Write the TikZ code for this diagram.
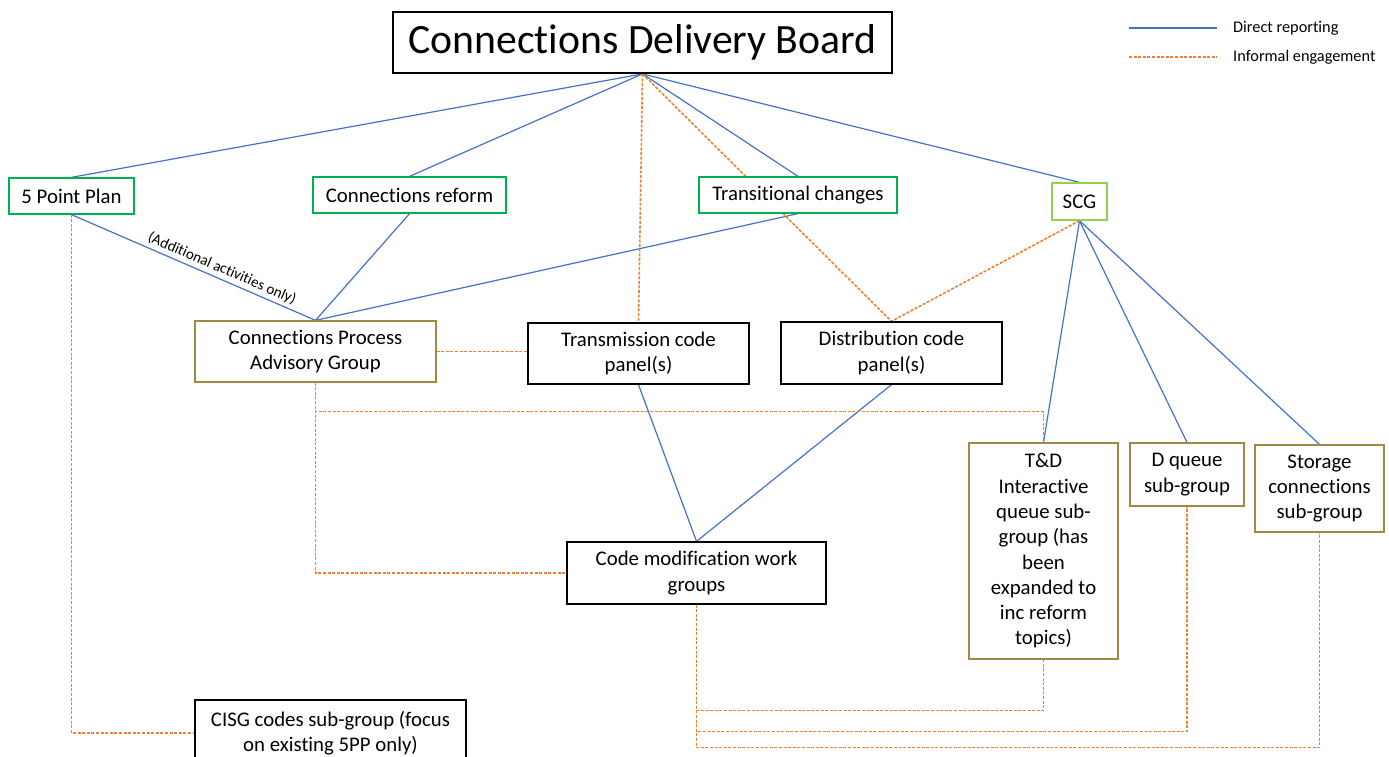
\documentclass[tikz,border=0pt]{standalone}
\usepackage{fontspec}
\setmainfont{Carlito}[Ligatures={NoCommon,NoContextual,NoRare}]
\usetikzlibrary{backgrounds}
\definecolor{reportblue}{HTML}{4472C4}
\definecolor{informalorange}{HTML}{F07F30}
\definecolor{streamgreen}{HTML}{00B050}
\definecolor{scggreen}{HTML}{92D050}
\definecolor{groupgold}{HTML}{9E8A44}

\begin{document}
\begin{tikzpicture}[x=1pt,y=-1pt,
  box/.style={rectangle,fill=white,inner sep=0pt,align=center,line width=1.3pt,
    font=\fontsize{20.8}{25.3}\selectfont},
  boardbox/.style={box,draw=black,line width=1.8pt,font=\fontsize{41.7}{50}\selectfont},
  streambox/.style={box,draw=streamgreen},
  scgbox/.style={box,draw=scggreen},
  groupbox/.style={box,draw=groupgold},
  panelbox/.style={box,draw=black},
  report/.style={draw=reportblue,line width=1.2pt},
  informal/.style={draw=informalorange,line width=1.6pt,dash pattern=on 3pt off 1.6pt},
  legendtext/.style={anchor=west,inner sep=0pt,font=\fontsize{16.3}{19.6}\selectfont},
  notetext/.style={inner sep=3pt,font=\fontsize{15.1}{18}\selectfont}]
\useasboundingbox (0,0) rectangle (1389,756);
\clip (0,0) rectangle (1389,756);
% board and workstreams
\node[boardbox,minimum width=499,minimum height=61] (cdb) at (642.5,42.5) {Connections Delivery Board};
\node[streambox,minimum width=125,minimum height=36] (fpp) at (71.5,196) {5 Point Plan};
\node[streambox,minimum width=193,minimum height=36] (reform) at (409.5,195) {Connections reform};
\node[streambox,minimum width=198,minimum height=36] (trans) at (798,195) {Transitional changes};
\node[scgbox,minimum width=55,minimum height=37] (scg) at (1079.5,201.5) {SCG};
% groups and panels
\node[groupbox,minimum width=241,minimum height=61] (cpag) at (315.5,351.5) {Connections Process\\Advisory Group};
\node[panelbox,minimum width=221,minimum height=61] (tcp) at (638.5,353.5) {Transmission code\\panel(s)};
\node[panelbox,minimum width=221,minimum height=62] (dcp) at (891.5,353) {Distribution code\\panel(s)};
\node[groupbox,minimum width=149,minimum height=216] (td) at (1043.5,551) {T\&D\\Interactive\\queue sub-\\group (has\\been\\expanded to\\inc reform\\topics)};
\node[groupbox,minimum width=114,minimum height=63] (dq) at (1187,474.5) {D queue\\sub-group};
\node[groupbox,minimum width=129,minimum height=87] (stor) at (1319.5,488.5) {Storage\\connections\\sub-group};
\node[panelbox,minimum width=259,minimum height=62] (cmwg) at (696.5,573) {Code modification work\\groups};
\node[panelbox,minimum width=271,minimum height=66] (cisg) at (330.5,733) {CISG codes sub-group (focus\\on existing 5PP only)};
% legend
\coordinate (repA) at (1129,28);
\coordinate (repB) at (1217,28);
\coordinate (infA) at (1129,57);
\coordinate (infB) at (1217,57);
\node[legendtext] (repT) at (1233,28) {Direct reporting};
\node[legendtext] (infT) at (1233,57) {Informal engagement};
\draw[report] (repA) -- (repB);
\draw[informal] (infA) -- (infB);
\begin{scope}[on background layer]
% direct reporting
\draw[report] (cdb.south) -- (fpp.north);
\draw[report] (cdb.south) -- (reform.north);
\draw[report] (cdb.south) -- (trans.north);
\draw[report] (cdb.south) -- (scg.north);
\draw[report] (fpp.south) -- node[notetext,pos=0.6,above,sloped] (addnote) {(Additional activities only)} (cpag.north);
\draw[report] (reform.south) -- (cpag.north);
\draw[report] (trans.south) -- (cpag.north);
\draw[report] (scg.south) -- (td.north);
\draw[report] (scg.south) -- (dq.north);
\draw[report] (scg.south) -- (stor.north);
\draw[report] (tcp.south) -- (cmwg.north);
\draw[report] (dcp.south) -- (cmwg.north);
% informal engagement
\draw[informal] (cdb.south) -- (tcp.north);
\draw[informal] (cdb.south) -- (dcp.north);
\draw[informal] (scg.south) -- (dcp.north);
\draw[informal] (cpag.east) -- (cpag.east -| tcp.west);
\draw[informal] (cpag.south) |- (cmwg.west);
\draw[informal] (cpag.south) -- ++(0,29) -| (td.north);
\draw[informal] (fpp.south) |- (cisg.west);
\draw[informal] (cmwg.south) -- ++(0,106) -| (td.south);
\draw[informal] (cmwg.south) -- ++(0,127) -| (dq.south);
\draw[informal] (cmwg.south) -- ++(0,143) -| (stor.south);
\end{scope}
\end{tikzpicture}
\end{document}
